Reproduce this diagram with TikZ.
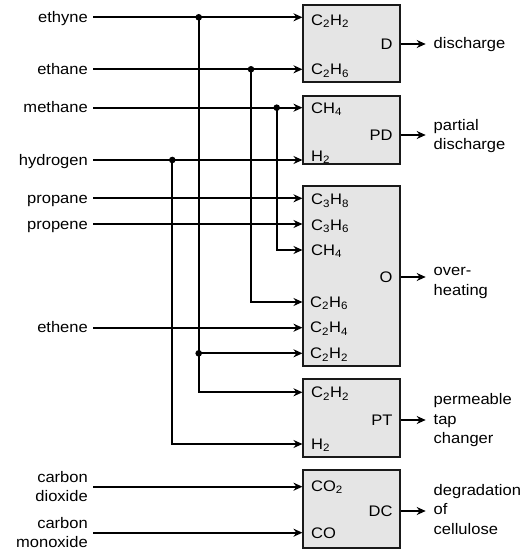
\documentclass[tikz,border=0pt]{standalone}
\usepackage{fontspec}
\setmainfont{Liberation Sans}[FakeStretch=1.08]
\usetikzlibrary{arrows.meta}

\tikzset{
  gasbox/.style={draw=black!90, fill=black!10, line width=1.8pt, inner sep=0pt, minimum width=96.7pt},
  wire/.style={line width=1.8pt},
  gas/.style={anchor=east, inner xsep=5pt, inner ysep=0pt, text height=10pt, text depth=0pt},
  gas2/.style={anchor=east, inner xsep=5pt, inner ysep=0pt, align=right},
  pin/.style={anchor=west, inner sep=0pt, text height=10.7pt, text depth=0pt},
  tag/.style={anchor=east, inner sep=0pt, text height=10.7pt, text depth=0pt},
  fault/.style={anchor=north west, inner sep=0pt, align=left}
}

\begin{document}
\begin{tikzpicture}[x=1pt, y=-1pt, >={Stealth[length=9pt,width=8pt]},
    font=\fontsize{15.3}{19.5}\selectfont]
  \useasboundingbox (0,0) rectangle (528,551);

  % fault boxes
  \node[gasbox, minimum height=77.3pt] (D) at (351.7,43.7) {};
  \node[gasbox, minimum height=68.3pt] (PD) at (351.7,129.9) {};
  \node[gasbox, minimum height=180.3pt] (O) at (351.7,275.9) {};
  \node[gasbox, minimum height=78pt] (PT) at (351.7,418.3) {};
  \node[gasbox, minimum height=78.3pt] (DC) at (351.7,509.2) {};

  % gases
  \node[gas] (ethyne) at (93,17.3) {ethyne};
  \node[gas] (ethane) at (93,69.3) {ethane};
  \node[gas] (methane) at (93,107.7) {methane};
  \node[gas] (hydrogen) at (93,160) {hydrogen};
  \node[gas] (propane) at (93,198.3) {propane};
  \node[gas] (propene) at (93,224) {propene};
  \node[gas] (ethene) at (93,327.7) {ethene};
  \node[gas2] (co2) at (93,486.7) {carbon\\dioxide};
  \node[gas2] (co) at (93,532.7) {carbon\\monoxide};

  % box inputs
  \node[pin] (D-a) at (311,20) {C\textsubscript{2}H\textsubscript{2}};
  \node[pin] (D-b) at (311,69.3) {C\textsubscript{2}H\textsubscript{6}};
  \node[pin] (PD-a) at (311,108) {CH\textsubscript{4}};
  \node[pin] (PD-b) at (311,156) {H\textsubscript{2}};
  \node[pin] (O-a) at (311,199.5) {C\textsubscript{3}H\textsubscript{8}};
  \node[pin] (O-b) at (311,225) {C\textsubscript{3}H\textsubscript{6}};
  \node[pin] (O-c) at (311,250) {CH\textsubscript{4}};
  \node[pin] (O-d) at (310,302) {C\textsubscript{2}H\textsubscript{6}};
  \node[pin] (O-e) at (310,327.5) {C\textsubscript{2}H\textsubscript{4}};
  \node[pin] (O-f) at (310,353.3) {C\textsubscript{2}H\textsubscript{2}};
  \node[pin] (PT-a) at (311,392.3) {C\textsubscript{2}H\textsubscript{2}};
  \node[pin] (PT-b) at (311,444) {H\textsubscript{2}};
  \node[pin] (DC-a) at (311,486) {CO\textsubscript{2}};
  \node[pin] (DC-b) at (311,533) {CO};

  % box outputs
  \node[tag] (D-t) at (392.7,44) {D};
  \node[tag] (PD-t) at (392.7,135) {PD};
  \node[tag] (O-t) at (392.7,277) {O};
  \node[tag] (PT-t) at (392.7,420) {PT};
  \node[tag] (DC-t) at (392.7,511) {DC};

  \coordinate (D-o) at (425.7,44);
  \coordinate (PD-o) at (425.7,135);
  \coordinate (O-o) at (425.7,277);
  \coordinate (PT-o) at (425.7,420);
  \coordinate (DC-o) at (425.7,511);

  \node[fault] (D-f) at (433.5,37) {discharge};
  \node[fault] (PD-f) at (433.5,119) {partial\\discharge};
  \node[fault] (O-f2) at (433.5,267.5) {over-\\heating};
  \node[fault] (PT-f) at (433.5,393.5) {permeable\\tap\\changer};
  \node[fault] (DC-f) at (433.5,484) {degradation\\of\\cellulose};

  \foreach \b in {D,PD,O,PT,DC}
    \draw[wire,->] (\b-t -| \b.east) -- (\b-o);

  % straight feeds
  \draw[wire,->] (ethyne.east) -- (ethyne -| D.west);
  \draw[wire,->] (ethane.east) -- (ethane -| D.west);
  \draw[wire,->] (methane.east) -- (methane -| PD.west);
  \draw[wire,->] (hydrogen.east) -- (hydrogen -| PD.west);
  \draw[wire,->] (propane.east) -- (propane -| O.west);
  \draw[wire,->] (propene.east) -- (propene -| O.west);
  \draw[wire,->] (ethene.east) -- (ethene -| O.west);
  \draw[wire,->] (co2.east) -- (co2 -| DC.west);
  \draw[wire,->] (co.east) -- (co -| DC.west);

  % branches
  \coordinate (j-ethyne) at (198.7,17.3);
  \coordinate (j-ethane) at (251,69.3);
  \coordinate (j-methane) at (276.7,107.7);
  \coordinate (j-hydrogen) at (172.3,160);

  \draw[wire,->] (j-ethyne) |- (PT-a -| PT.west);
  \draw[wire,->] (j-ethyne |- O-f) -- (O-f -| O.west);
  \draw[wire,->] (j-ethane) |- (O-d -| O.west);
  \draw[wire,->] (j-methane) |- (O-c -| O.west);
  \draw[wire,->] (j-hydrogen) |- (PT-b -| PT.west);

  \fill (j-ethyne) circle (3.3pt);
  \fill (j-ethyne |- O-f) circle (3.3pt);
  \fill (j-ethane) circle (3.3pt);
  \fill (j-methane) circle (3.3pt);
  \fill (j-hydrogen) circle (3.3pt);
\end{tikzpicture}
\end{document}
